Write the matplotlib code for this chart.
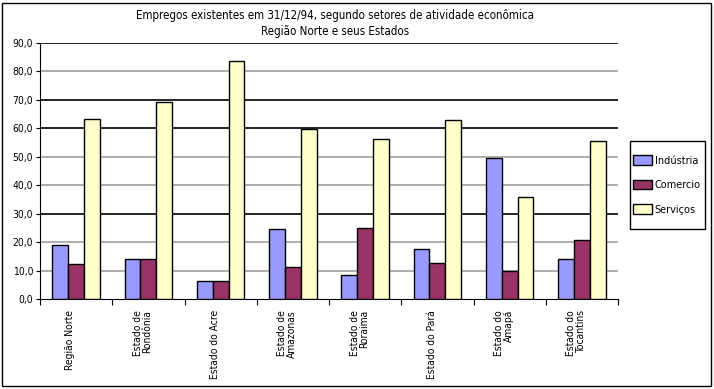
import numpy as np
import matplotlib
matplotlib.use("Agg")
import matplotlib.pyplot as plt
from matplotlib.patches import Rectangle

plt.rcParams['font.family'] = ['DejaVu Sans']
plt.rcParams['font.stretch'] = 'condensed'

estados = ["Região Norte", "Estado de\nRondônia", "Estado do Acre", "Estado de\nAmazonas",
           "Estado de\nRoraima", "Estado do Pará", "Estado do\nAmapá", "Estado do\nTocantins"]
industria = [19.1, 14.0, 6.3, 24.5, 8.3, 17.5, 49.5, 14.0]
comercio = [12.4, 14.0, 6.3, 11.2, 24.9, 12.6, 9.9, 20.7]
servicos = [63.2, 69.4, 83.7, 59.7, 56.2, 62.9, 35.8, 55.5]

fig = plt.figure(figsize=(7.14, 3.89), dpi=100)
ax = fig.add_axes([40/714, 1 - 299/389, 578/714, 256/389])

x = np.arange(len(estados))
w = 0.22
ax.bar(x - w, industria, w, color='#9999ff', edgecolor='black', linewidth=1, label='Indústria', zorder=3)
ax.bar(x, comercio, w, color='#993366', edgecolor='black', linewidth=1, label='Comercio', zorder=3)
ax.bar(x + w, servicos, w, color='#ffffcc', edgecolor='black', linewidth=1, label='Serviços', zorder=3)

ax.set_xlim(-0.5, len(estados) - 0.5)
ax.set_ylim(0, 90)
yt = np.arange(0, 91, 10)
ax.set_yticks(yt)
ax.set_yticklabels([f"{v:.1f}".replace('.', ',') for v in yt], fontsize=7.5)

# horizontal grid lines (some print darker in the original)
for v in yt[1:]:
    c = 'black' if v in (30, 60, 70, 90) else '#a0a0a0'
    ax.axhline(v, color=c, linewidth=1.2, zorder=1)

# category ticks at boundaries, labels at centres
ax.set_xticks(np.arange(-0.5, len(estados), 1))
ax.set_xticklabels([])
ax.tick_params(axis='x', length=4, direction='out')
ax.tick_params(axis='y', length=3, direction='out', pad=2)
for i, lab in enumerate(estados):
    ax.text(i - 0.08, -3.8, lab, rotation=90, ha='center', va='top', multialignment='right',
            fontsize=7.4, linespacing=0.95)

ax.spines['top'].set_visible(False)
ax.spines['right'].set_visible(False)

fig.text(335/714, 1 - 24/389, "Empregos existentes em 31/12/94, segundo setores de atividade econômica\nRegião Norte e seus Estados",
         ha='center', va='center', fontsize=8.3, linespacing=1.3)

# legend inside a hand-drawn box
fig.patches.append(Rectangle((630/714, 1 - 229/389), 75/714, 88/389, transform=fig.transFigure,
                             fill=False, edgecolor='black', linewidth=1))
leg = fig.legend(loc='center', bbox_to_anchor=(667/714, 1 - 185/389), fontsize=7.8,
                 frameon=False, labelspacing=1.3, handlelength=1.7, handleheight=1.0,
                 borderpad=0, borderaxespad=0, handletextpad=0.3)

fig.patches.append(Rectangle((2/714, 3/389), 709/714, 383/389, transform=fig.transFigure,
                             fill=False, edgecolor='black', linewidth=1))

fig.savefig("out.png", dpi=100)
